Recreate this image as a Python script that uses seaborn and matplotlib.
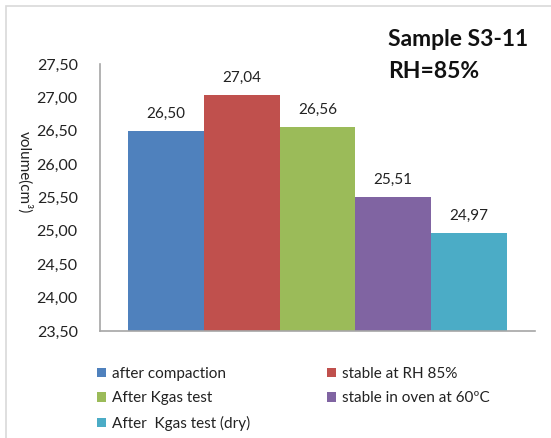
import matplotlib
matplotlib.use("Agg")
import matplotlib.pyplot as plt
from matplotlib.patches import Rectangle
import seaborn as sns
import pandas as pd

# Volume of sample S3-11 after each conditioning step
stages = [
    "after compaction",
    "stable at RH 85%",
    "After Kgas test",
    "stable in oven at 60ºC",
    "After  Kgas test (dry)",
]
volumes = [26.50, 27.04, 26.56, 25.51, 24.97]
colors = ["#4F81BD", "#C0504D", "#9BBB59", "#8064A2", "#4BACC6"]
y_ticks = [23.5, 24.0, 24.5, 25.0, 25.5, 26.0, 26.5, 27.0, 27.5]

df = pd.DataFrame({"group": ["S3-11"] * len(stages), "stage": stages, "volume": volumes})

sns.set_theme(style="white")
plt.rcParams["font.family"] = ["Lato", "DejaVu Sans"]

W, H = 551, 438
fig = plt.figure(figsize=(W / 100, H / 100), dpi=100)
fig.patch.set_facecolor("white")

# light frame around the chart area
fig.add_artist(Rectangle((6 / W, -0.1), 1.2, 1 - 6 / H + 0.1, transform=fig.transFigure,
                         fill=False, edgecolor="#d9d9d9", linewidth=1.2))

ax = fig.add_axes([100 / W, 1 - 331 / H, 435 / W, 267 / H])
sns.barplot(data=df, x="group", y="volume", hue="stage", hue_order=stages,
            palette=colors, width=0.871, saturation=1, ax=ax, legend=True,
            edgecolor="none", linewidth=0)

ax.set_ylim(23.5, 27.5)
ax.set_xlim(-0.5, 0.5)
ax.set_yticks(y_ticks)
ax.set_yticklabels([f"{v:.2f}".replace(".", ",") for v in y_ticks], fontsize=11.5, color="#222222")
ax.set_xticks([])
ax.set_xlabel("")
ax.set_ylabel("volume(cm³)", fontsize=11, rotation=270, color="#222222", va="center")
ax.yaxis.set_label_coords(-0.174, 0.595)
ax.tick_params(axis="y", length=0, pad=16)
for side in ["top", "right"]:
    ax.spines[side].set_visible(False)
for side in ["left", "bottom"]:
    ax.spines[side].set_color("#a6a6a6")
    ax.spines[side].set_linewidth(1.2)

# value labels above each bar
for container, v in zip(ax.containers, volumes):
    ax.bar_label(container, labels=[f"{v:.2f}".replace(".", ",")], padding=7,
                 fontsize=11, color="#222222")

# legend laid out row-wise in two columns
handles, labels = ax.get_legend_handles_labels()
ax.get_legend().remove()
order = [0, 2, 4, 1, 3]
fig.legend([handles[i] for i in order], [labels[i] for i in order],
           loc="upper left", bbox_to_anchor=(97 / W, 1 - 367 / H), ncol=2,
           frameon=False, fontsize=11, handlelength=0.6, handleheight=0.6,
           handletextpad=0.4, labelspacing=0.68, columnspacing=5.0,
           borderaxespad=0, borderpad=0)
for t in fig.legends[0].get_texts():
    t.set_color("#222222")

fig.text(388 / W, 1 - 39 / H, "Sample S3-11", fontsize=16.5, fontweight="bold",
         va="center", ha="left", color="#111111")
fig.text(388 / W, 1 - 72 / H, "RH=85%", fontsize=16.5, fontweight="bold",
         va="center", ha="left", color="#111111")

fig.savefig("out.png", dpi=100, facecolor="white")
